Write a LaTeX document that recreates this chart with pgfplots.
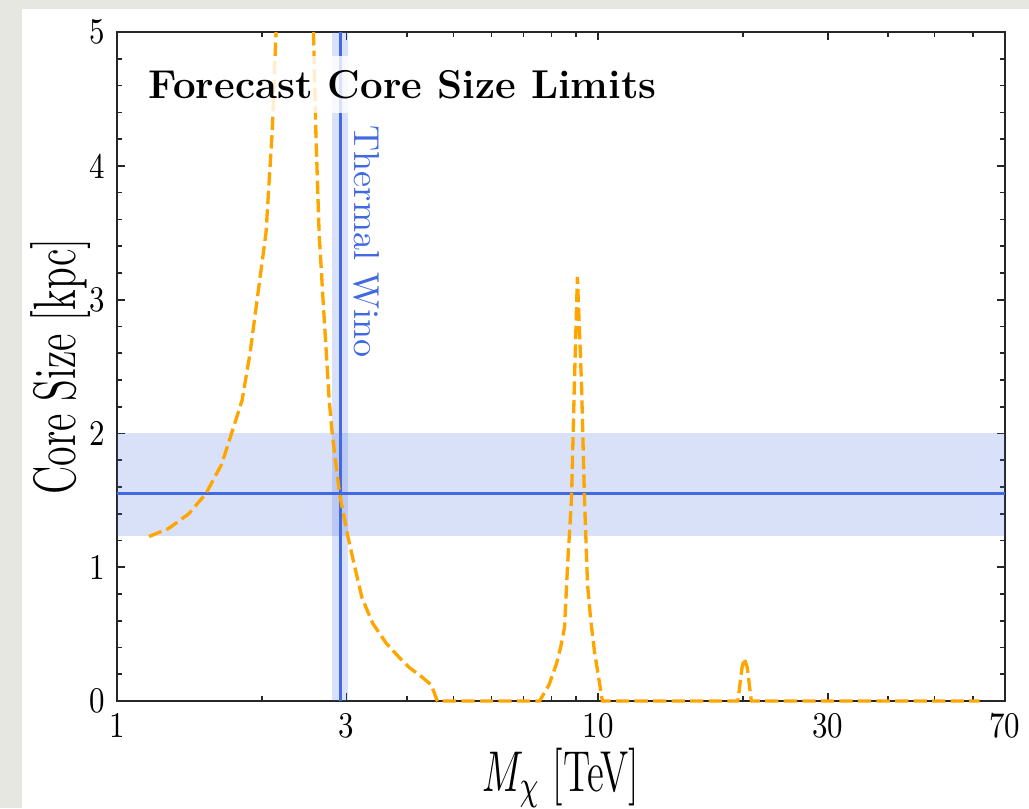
\documentclass[border=0pt]{standalone}
\usepackage{pgfplots}
\pgfplotsset{compat=1.18}
\usepackage{graphicx}
\usetikzlibrary{backgrounds}
\definecolor{wino}{RGB}{65,105,225}
\definecolor{curve}{RGB}{255,165,0}
\definecolor{bggray}{RGB}{231,231,226}
\newcommand{\tl}[1]{\scalebox{1}[1.2]{#1}}
\begin{document}
\begin{tikzpicture}
\begin{axis}[
  name=a,
  scale only axis, width=253.7pt, height=191.1pt,
  xmode=log, xmin=1, xmax=70, ymin=0, ymax=5,
  clip=false,
  xtick={1,3,10,30,70}, xticklabels={\tl{1},\tl{3},\tl{10},\tl{30},\tl{70}},
  minor xtick={2,4,5,6,7,8,9,20,40,50,60},
  ytick={0,1,2,3,4,5}, yticklabels={\tl{0},\tl{1},\tl{2},\tl{3},\tl{4},\tl{5}},
  minor y tick num=4,
  tick align=inside, major tick length=2.3pt, minor tick length=1.4pt,
  axis line style={line width=0.55pt, black!85},
  every tick/.style={line width=0.45pt, black!85},
  tick label style={font=\fontsize{8.6}{10}\selectfont},
  xlabel={\scalebox{1}[1.5]{$M_\chi$ [TeV]}},
  ylabel={\scalebox{1}[1.5]{Core Size [kpc]}},
  xlabel style={at={(axis description cs:0.5,-0.135)}, anchor=base, font=\fontsize{11}{13}\selectfont},
  ylabel style={at={(axis description cs:-0.047,0.5)}, anchor=base, font=\fontsize{11.4}{13}\selectfont},
]
% bands
\addplot[draw=none, fill=wino, fill opacity=0.2] coordinates {(1,1.235) (70,1.235) (70,2.005) (1,2.005)} -- cycle;
\addplot[draw=none, fill=wino, fill opacity=0.2] coordinates {(2.80,0) (3.02,0) (3.02,5) (2.80,5)} -- cycle;
% central values
\addplot[wino, line width=0.9pt] coordinates {(1,1.55) (70,1.55)};
\addplot[wino, line width=0.9pt] coordinates {(2.91,0) (2.91,5)};
% forecast limit (runs off the top of the plot between the two branches)
\addplot[curve, line width=0.95pt, dash pattern=on 3.8pt off 1.5pt] coordinates {
  (1.166,1.23) (1.28,1.29) (1.41,1.40) (1.53,1.55) (1.65,1.77) (1.73,2.0)
  (1.82,2.25) (1.89,2.6) (1.955,3.0) (2.04,3.5) (2.10,4.24) (2.14,5.0)};
\addplot[curve, line width=0.95pt, dash pattern=on 3.8pt off 1.5pt] coordinates {
  (2.56,5.0) (2.59,4.24) (2.63,3.5) (2.68,3.0) (2.76,2.25) (2.80,2.0)
  (2.90,1.55) (3.01,1.25) (3.12,1.0) (3.23,0.77) (3.40,0.58) (3.63,0.43)
  (3.85,0.33) (4.05,0.25) (4.30,0.18) (4.50,0.12) (4.63,0.0)
  (7.55,0.0) (7.9,0.12) (8.19,0.28) (8.35,0.40) (8.51,0.55) (8.63,1.0)
  (8.80,1.52) (8.92,2.37) (9.05,3.17) (9.23,2.37) (9.36,1.52) (9.50,0.87)
  (9.65,0.6) (9.82,0.37) (10.2,0.0)
  (19.5,0.0) (19.9,0.25) (20.1,0.32) (20.4,0.25) (20.8,0.0) (62,0.0)};
\node[anchor=base west, fill=white, fill opacity=0.8, text opacity=1, inner sep=4pt,
  font=\bfseries\fontsize{11.5}{13}\selectfont] at (rel axis cs:0.019,0.901) {Forecast Core Size Limits};
\node[rotate=-90, anchor=base west, inner sep=0pt, text=wino,
  font=\fontsize{10.3}{12}\selectfont] at (axis cs:3.11,4.305) {Thermal Wino};
\end{axis}
\begin{scope}[on background layer]
\fill[bggray] ([xshift=-33.43pt,yshift=-30.57pt]a.south west) rectangle ([xshift=260.57pt,yshift=200.29pt]a.south west);
\fill[white] ([xshift=-27.14pt,yshift=-30.57pt]a.south west) rectangle ([xshift=260.57pt,yshift=197.71pt]a.south west);
\end{scope}
\pgfresetboundingbox
\path[use as bounding box] ([xshift=-33.43pt,yshift=-30.57pt]a.south west) rectangle ([xshift=260.57pt,yshift=200.29pt]a.south west);
\end{tikzpicture}
\end{document}
